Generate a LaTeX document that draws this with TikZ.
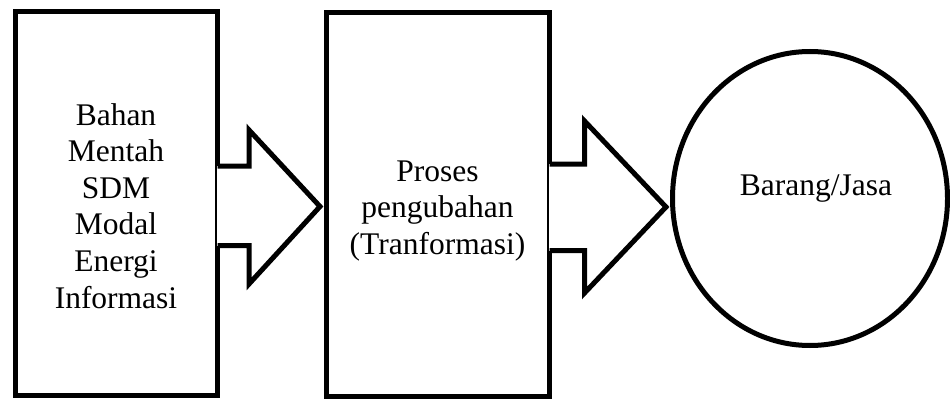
\documentclass[tikz,border=0pt]{standalone}
\usepackage{fontspec}
\setmainfont{Liberation Serif}
\usetikzlibrary{shapes.geometric,calc}
\begin{document}
\begin{tikzpicture}[x=1pt,y=-1pt,
  shapeline/.style={line width=5pt,draw=black},
  blockbox/.style={shapeline, rectangle, inner sep=0pt},
  blockarrow/.style={line width=5pt, draw=black, line join=miter},
  lbl/.style={font=\fontsize{31.5}{36.6}\selectfont, align=center, inner sep=0pt}]
\useasboundingbox (0,0) rectangle (950,401);
% boxes and ellipse
\node[blockbox, minimum width=202pt, minimum height=383.5pt] (in) at (116.5,203.75) {};
\node[blockbox, minimum width=223pt, minimum height=384pt] (mid) at (438,204.5) {};
\node[shapeline, ellipse, inner sep=0pt, minimum width=275pt, minimum height=294pt] (out) at (810,198.5) {};
% reference levels
\coordinate (a1t) at (0,166);
\coordinate (a1m) at (0,206.5);
\coordinate (a1b) at (0,245.5);
\coordinate (a2t) at (0,164);
\coordinate (a2m) at (0,207);
\coordinate (a2b) at (0,250.5);
% arrow 1
\fill[white] ([xshift=-3pt]in.east |- a1t) rectangle ([xshift=10pt]in.east |- a1b);
\draw[blockarrow] ([xshift=-2.5pt]in.east |- a1t) -- (249,166) -- (249,130)
  -- ([xshift=-4pt]mid.west |- a1m) -- (249,284) -- (249,245.5)
  -- ([xshift=-2.5pt]in.east |- a1b);
% arrow 2
\fill[white] ([xshift=-3pt]mid.east |- a2t) rectangle ([xshift=10pt]mid.east |- a2b);
\draw[blockarrow] ([xshift=-2.5pt]mid.east |- a2t) -- (584.5,164) -- (584.5,121)
  -- ([xshift=-4pt]out.west |- a2m) -- (584.5,293) -- (584.5,250.5)
  -- ([xshift=-2.5pt]mid.east |- a2b);
% labels
\node[lbl] (inText) at (116,205.75) {Bahan\\Mentah\\SDM\\Modal\\Energi\\Informasi};
\node[lbl] (midText) at (437.5,210.85) {Proses\\pengubahan\\(Tranformasi)};
\node[lbl, anchor=base] (outText) at (816,195) {Barang/Jasa};
\end{tikzpicture}
\end{document}
